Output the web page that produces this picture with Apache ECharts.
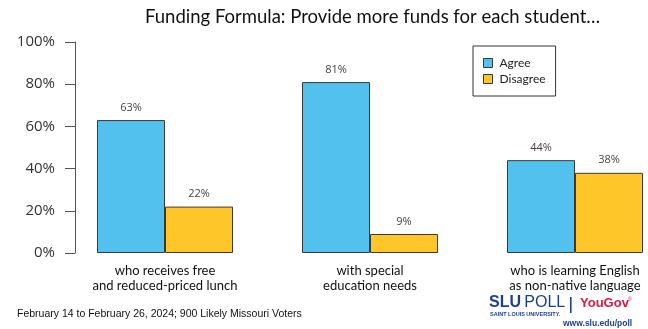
<!DOCTYPE html>
<html>
<head>
<meta charset="utf-8">
<script src="https://cdn.jsdelivr.net/npm/echarts@6/dist/echarts.min.js"></script>
<style>
  html, body { margin: 0; padding: 0; background: #fff; }
  #chart { width: 648px; height: 329px; }
</style>
</head>
<body>
<div id="chart"></div>
<script>
// Survey answers per funding target (percent of likely voters)
const categories = [
  'who receives free\nand reduced-priced lunch',
  'with special\neducation needs',
  'who is learning English\nas non-native language'
];
const agreeValues = [63, 81, 44];
const disagreeValues = [22, 9, 38];
const yTicks = [0, 20, 40, 60, 80, 100];

const BLUE = '#53C1EE';
const YELLOW = '#FFC629';
const EDGE = '#3a3a3a';

const chart = echarts.init(document.getElementById('chart'), null, { renderer: 'canvas' });

const valueLabel = {
  show: true,
  position: 'top',
  distance: 7,
  formatter: p => p.value + '%',
  fontFamily: 'Open Sans',
  fontSize: 11,
  color: '#444'
};

chart.setOption({
  animation: false,
  backgroundColor: '#fff',
  title: {
    text: 'Funding Formula: Provide more funds for each student\u2026',
    left: 145,
    top: 8,
    padding: 0,
    textStyle: { fontFamily: 'Lato', fontSize: 18.5, fontWeight: 'normal', color: '#111' }
  },
  legend: {
    orient: 'vertical',
    left: 473,
    top: 46,
    padding: [11, 10, 11, 10],
    borderColor: '#333',
    borderWidth: 1,
    icon: 'rect',
    itemWidth: 9,
    itemHeight: 9,
    itemGap: 4,
    itemStyle: { borderColor: EDGE, borderWidth: 1 },
    textStyle: { fontFamily: 'Lato', fontSize: 12, color: '#222', padding: [0, 0, 0, 2] },
    data: ['Agree', 'Disagree']
  },
  // the plot area is wider than the canvas on the right; keep it as given
  grid: { left: 62.5, top: 42, width: 615, height: 211, containLabel: false, outerBoundsMode: 'none' },
  xAxis: {
    type: 'category',
    data: categories,
    axisLine: { show: false },
    axisTick: { show: false },
    axisLabel: {
      margin: 10,
      fontFamily: 'Lato',
      fontSize: 13,
      lineHeight: 15,
      color: '#111',
      interval: 0
    }
  },
  yAxis: {
    type: 'value',
    min: yTicks[0],
    max: yTicks[yTicks.length - 1],
    interval: yTicks[1] - yTicks[0],
    offset: -12.5,
    axisLine: { show: true, lineStyle: { color: '#555', width: 1 } },
    axisTick: { show: true, length: 10, lineStyle: { color: '#555' } },
    splitLine: { show: false },
    axisLabel: {
      margin: 20,
      formatter: v => v + '%',
      fontFamily: 'Open Sans',
      fontSize: 15,
      color: '#333'
    }
  },
  series: [
    {
      name: 'Agree',
      type: 'bar',
      data: agreeValues,
      barWidth: 68,
      barGap: '0%',
      itemStyle: { color: BLUE, borderColor: EDGE, borderWidth: 1 },
      label: valueLabel
    },
    {
      name: 'Disagree',
      type: 'bar',
      data: disagreeValues,
      barWidth: 68,
      barGap: '0%',
      itemStyle: { color: YELLOW, borderColor: EDGE, borderWidth: 1 },
      label: valueLabel
    }
  ],
  graphic: [
    {
      type: 'text',
      left: 17,
      top: 309,
      style: {
        text: 'February 14 to February 26, 2024; 900 Likely Missouri Voters',
        fontFamily: 'Liberation Sans',
        fontSize: 10.5,
        fill: '#111'
      }
    },
    {
      type: 'text',
      left: 489,
      top: 295,
      style: {
        text: '{b|SLU} {r|POLL}',
        rich: {
          b: { fontFamily: 'Liberation Sans', fontWeight: 'bold', fontSize: 16, fill: '#1d3f94' },
          r: { fontFamily: 'Liberation Sans', fontSize: 16, fill: '#1d3f94' }
        }
      }
    },
    {
      type: 'text',
      left: 490,
      top: 311,
      style: {
        text: 'SAINT LOUIS UNIVERSITY.',
        fontFamily: 'Liberation Sans',
        fontWeight: 'bold',
        fontSize: 5.5,
        fill: '#1d3f94'
      }
    },
    {
      type: 'rect',
      shape: { x: 570, y: 297, width: 1.6, height: 16 },
      style: { fill: '#1d3f94' }
    },
    {
      type: 'text',
      left: 580,
      top: 297,
      style: {
        text: 'YouGov',
        fontFamily: 'Liberation Sans',
        fontWeight: 'bold',
        fontSize: 13,
        fill: '#e3173e'
      }
    },
    {
      type: 'text',
      left: 628,
      top: 297,
      style: { text: '\u00ae', fontFamily: 'Liberation Sans', fontSize: 5, fill: '#e3173e' }
    },
    {
      type: 'text',
      left: 563,
      top: 319,
      style: {
        text: 'www.slu.edu/poll',
        fontFamily: 'Liberation Sans',
        fontWeight: 'bold',
        fontSize: 8.5,
        fill: '#1d3f94'
      }
    }
  ]
});
</script>
</body>
</html>
